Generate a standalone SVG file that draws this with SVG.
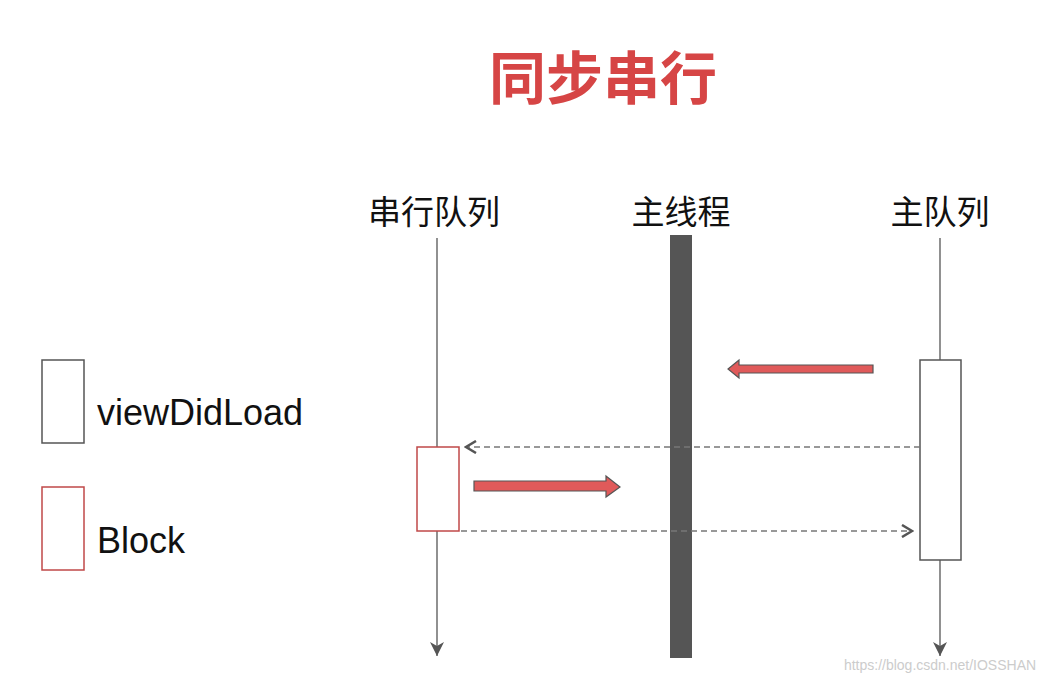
<svg xmlns="http://www.w3.org/2000/svg" width="1044" height="684" viewBox="0 0 1044 684">
<style>
.t{font-family:"Noto Sans CJK SC","Liberation Sans",sans-serif;fill:#111;font-size:33px;text-anchor:middle}
.l{font-family:"Liberation Sans",sans-serif;fill:#111;font-size:36px}
.life{stroke:#555;stroke-width:1.3;fill:none}
.dash{stroke:#777;stroke-width:1.5;stroke-dasharray:6 4;fill:none}
.red{fill:#e05a5a;stroke:#555;stroke-width:1.2}
</style>
<defs>
<marker id="ah" markerWidth="16" markerHeight="16" refX="14" refY="7" orient="auto" markerUnits="userSpaceOnUse">
<path d="M0,0 L14,7 L0,14 L4,7 Z" fill="#555"/>
</marker>
<marker id="open" markerWidth="14" markerHeight="14" refX="12" refY="7" orient="auto" markerUnits="userSpaceOnUse">
<path d="M2,1 L12,7 L2,13" fill="none" stroke="#555" stroke-width="2.5"/>
</marker>
</defs>
<rect width="1044" height="684" fill="#fff"/>
<text x="603" y="99" font-family="Noto Sans CJK SC,sans-serif" font-size="57" font-weight="bold" fill="#d64545" text-anchor="middle">同步串行</text>
<g id="legend-vdl"><rect x="42" y="360" width="42" height="83" fill="#fff" stroke="#555" stroke-width="1.5"/><text class="l" x="97" y="425">viewDidLoad</text></g>
<g id="legend-block"><rect x="42" y="487" width="42" height="83" fill="#fff" stroke="#c04848" stroke-width="1.5"/><text class="l" x="97" y="553">Block</text></g>
<g id="serial"><text class="t" x="434" y="224">串行队列</text><line class="life" x1="437" y1="238" x2="437" y2="656" marker-end="url(#ah)"/></g>
<g id="main"><text class="t" x="681" y="224">主线程</text><rect x="670" y="235" width="22" height="423" fill="#555"/></g>
<g id="mainq"><text class="t" x="940" y="224">主队列</text><line class="life" x1="940" y1="238" x2="940" y2="656" marker-end="url(#ah)"/></g>
<g id="vdl"><rect x="920" y="360" width="41" height="200" fill="#fff" stroke="#555" stroke-width="1.5"/></g>
<g id="block"><rect x="417" y="447" width="42" height="84" fill="#fff" stroke="#c04848" stroke-width="1.5"/></g>
<g id="connectors">
<line class="dash" x1="920" y1="447" x2="466" y2="447" marker-end="url(#open)"/>
<line class="dash" x1="461" y1="531" x2="912" y2="531" marker-end="url(#open)"/>
<path class="red" d="M873,365 L739,365 L739,360 L728,369 L739,378 L739,373 L873,373 Z"/>
<path class="red" d="M474,481 L606,481 L606,476 L620,487 L606,497 L606,491 L474,491 Z"/>
</g>
<text x="940" y="670" font-family="Liberation Sans,sans-serif" font-size="14" fill="#ccc" text-anchor="middle">https://blog.csdn.net/IOSSHAN</text>
</svg>
